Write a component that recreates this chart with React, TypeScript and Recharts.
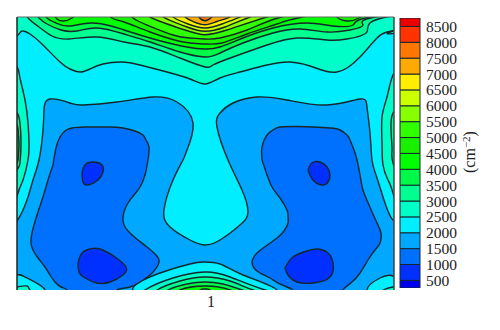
import { Area, Bar, ComposedChart, Label, ReferenceLine, XAxis, YAxis } from 'recharts';

type Pt = [number, number];

// contour outlines on a grid of x 17-394, y 17-290 (y grows downward)
// points outside the grid close a region behind the plot edge
const plate: Pt[] = [[5, 5], [405, 5], [405, 300], [5, 300], [5, 5]];

const top2500: Pt[] = [[8, 42], [18, 35], [22, 31], [30, 34], [43, 45], [60, 62], [70, 69], [80, 72], [90, 69], [103, 64], [122, 62], [140, 65], [167, 72], [190, 79], [205, 84], [220, 78], [240, 72], [267, 65], [290, 62], [310, 66], [325, 71], [337, 72], [347, 68], [360, 57], [377, 38], [387, 32], [393, 31], [402, 32], [404, 8], [8, 8], [8, 42]];
const top3000: Pt[] = [[21, 8], [29, 19], [39, 27], [52, 36], [69, 39], [97, 37], [124, 42], [150, 47], [180, 58], [205, 67], [213, 65], [233, 57], [267, 45], [297, 38], [327, 40], [347, 39], [367, 32], [382, 18], [389, 8], [21, 8]];
const top3500: Pt[] = [[31, 8], [39, 18], [47, 24], [61, 30], [77, 31], [97, 28], [124, 34], [150, 42], [180, 52], [205, 57], [220, 53], [243, 43], [273, 33], [300, 29], [327, 32], [350, 30], [363, 25], [375, 17], [382, 8], [31, 8]];
const top4000: Pt[] = [[40, 8], [47, 18], [56, 23], [69, 26], [91, 23], [111, 26], [124, 30], [157, 40], [187, 47], [205, 49], [220, 47], [243, 38], [273, 28], [307, 23], [333, 26], [353, 25], [370, 17], [377, 8], [40, 8]];
const top4500: Pt[] = [[104, 8], [112, 18], [124, 22], [150, 32], [183, 42], [205, 44], [222, 43], [247, 34], [277, 24], [298, 18], [307, 8], [104, 8]];
const top5000: Pt[] = [[124, 8], [133, 18], [147, 25], [173, 35], [190, 38], [205, 39], [220, 38], [247, 30], [278, 18], [287, 8], [124, 8]];
const top5500: Pt[] = [[142, 8], [150, 17], [185, 30], [205, 34.7], [227, 30], [267, 17], [276, 8], [142, 8]];
const top6000: Pt[] = [[156, 8], [163, 17], [187, 27], [205, 31.3], [225, 27], [250, 17], [258, 8], [156, 8]];
const top6500: Pt[] = [[167, 8], [173, 17], [188, 24], [205, 28], [222, 24], [240, 17], [247, 8], [167, 8]];
const top7000: Pt[] = [[178, 8], [185, 17], [193, 21.5], [205, 24.7], [217, 21.5], [230, 17], [236, 8], [178, 8]];
const top7500: Pt[] = [[195, 8], [199, 17], [205, 20.7], [212, 17], [217, 8], [195, 8]];
const lobeLeft: Pt[] = [[52, 10], [57, 19], [64, 21], [72, 18], [77, 10], [52, 10]];
const lobeRight: Pt[] = [[333, 10], [338, 18], [348, 21], [359, 18], [364, 10], [333, 10]];

const left2500: Pt[] = [[8, 62], [17, 67], [20, 78], [25, 100], [28, 123], [29, 143], [28, 160], [23, 180], [18, 193], [8, 200], [8, 62]];
const left3000: Pt[] = [[8, 108], [17, 113], [20, 123], [21, 143], [20, 163], [17, 170], [8, 175], [8, 108]];
const left3500: Pt[] = [[10, 120], [17, 125], [18.5, 135], [19, 145], [18.5, 155], [17, 163], [10, 168], [10, 120]];
const right2500: Pt[] = [[402, 68], [393, 75], [387, 97], [382, 117], [382, 143], [383, 165], [388, 180], [393, 193], [402, 200], [402, 68]];
const right3000: Pt[] = [[402, 108], [393, 113], [391, 130], [392, 150], [393, 163], [402, 175], [402, 108]];

const basin2000: Pt[] = [[8, 228], [17, 221], [27, 200], [33, 180], [39, 160], [43, 130], [44, 110], [50, 99], [70, 103], [83, 105], [117, 102], [153, 97], [177, 102], [193, 123], [187, 150], [183, 160], [173, 180], [164, 210], [170, 227], [190, 240], [205, 245], [220, 240], [240, 225], [248, 212], [242, 190], [228, 160], [217, 127], [220, 113], [233, 103], [257, 97], [287, 100], [327, 105], [360, 99], [367, 107], [370, 133], [372, 160], [376, 175], [383, 197], [393, 220], [402, 228], [402, 272], [393, 276], [380, 278], [367, 290], [358, 298], [285, 298], [277, 290], [243, 275], [220, 264], [203, 262], [190, 264], [160, 273], [133, 288], [125, 298], [55, 298], [45, 290], [27, 278], [17, 275], [8, 272], [8, 228]];

const blobLeft1500: Pt[] = [[53, 165], [56, 148], [60, 137], [65, 131], [72, 128], [85, 127], [97, 127], [110, 127], [123, 128], [135, 131], [143, 135], [146, 140], [149, 147], [148, 160], [145, 175], [140, 187], [134, 195], [128, 203], [124, 212], [123, 220], [125, 227], [130, 233], [138, 240], [147, 247], [155, 254], [159, 260], [157, 267], [150, 275], [140, 282], [130, 287], [117, 290], [108, 296], [75, 296], [67, 290], [61, 287], [55, 282], [50, 275], [45, 267], [38, 258], [33, 250], [31, 243], [32, 233], [37, 215], [43, 197], [48, 180], [53, 165]];
const blobRight1500: Pt[] = [[262, 160], [262, 147], [267, 135], [273, 130], [280, 127], [297, 126.5], [313, 127], [330, 128], [340, 130], [347, 135], [350, 140], [354, 150], [357, 160], [360, 175], [363, 190], [369, 205], [377, 223], [381, 233], [380, 243], [375, 250], [368, 260], [360, 273], [352, 282], [343, 290], [335, 296], [303, 296], [293, 290], [280, 284], [270, 278], [260, 273], [254, 268], [252, 262], [254, 257], [257, 253], [266, 246], [277, 238], [284, 231], [288, 223], [288, 216], [287, 210], [280, 198], [272, 187], [266, 172], [262, 160]];

const dotUpperLeft: Pt[] = [[82, 173], [85, 165], [93, 162], [102, 165], [103, 172], [98, 180], [88, 185], [83, 182], [82, 173]];
const dotLowerLeft: Pt[] = [[78, 263], [82, 253], [90, 249], [100, 249], [115, 257], [126, 267], [123, 275], [110, 282], [97, 283], [85, 278], [79, 272], [78, 263]];
const dotUpperRight: Pt[] = [[308, 170], [312, 163], [320, 162], [327, 167], [330, 175], [328, 182], [322, 185], [313, 180], [308, 170]];
const dotLowerRight: Pt[] = [[285, 268], [293, 257], [307, 251], [318, 249], [328, 253], [333, 263], [330, 277], [313, 283], [297, 282], [288, 275], [285, 268]];

const bottom2500: Pt[] = [[140, 298], [145, 290], [173, 278], [205, 272], [230, 277], [265, 290], [272, 298], [140, 298]];
const bottom3000: Pt[] = [[152, 298], [157, 290], [180, 281], [205, 277], [230, 281], [253, 290], [258, 298], [152, 298]];
const bottom3500: Pt[] = [[163, 298], [168, 290], [187, 284], [205, 282], [223, 284], [242, 290], [247, 298], [163, 298]];
const bottom4000: Pt[] = [[175, 298], [180, 290], [205, 286], [230, 290], [235, 298], [175, 298]];
const bottom4500: Pt[] = [[197, 296], [200, 290], [205, 289], [210, 290], [213, 296], [197, 296]];
const cornerLeft: Pt[] = [[8, 289], [17, 287], [27, 286], [30, 290], [33, 298], [8, 298], [8, 289]];
const cornerRight: Pt[] = [[402, 286], [393, 287], [383, 290], [378, 298], [402, 298], [402, 286]];

// colour scale: lowest band first
const scaleLevels = [500, 1000, 1500, 2000, 2500, 3000, 3500, 4000, 4500, 5000, 5500, 6000, 6500, 7000, 7500, 8000, 8500];
const scaleColors = ['#0000ee', '#0030ff', '#0070ff', '#00a8ff', '#00eeff', '#00ffc8', '#00ff90', '#00f848', '#00ff00', '#18f000', '#30ff00', '#88ff00', '#ccff00', '#ffee00', '#ffaa00', '#ff7700', '#ff3300', '#ee0000'];
const scaleBands = [500, 500, 500, 500, 500, 500, 500, 500, 500, 500, 500, 500, 500, 500, 500, 500, 500, 500];

// painted in order, each region over the one it sits in
const regions: Array<{ pts: Pt[]; band: number }> = [
  { pts: plate, band: 4 },
  { pts: top2500, band: 5 },
  { pts: top3000, band: 6 },
  { pts: top3500, band: 7 },
  { pts: top4000, band: 8 },
  { pts: lobeLeft, band: 9 },
  { pts: lobeRight, band: 9 },
  { pts: top4500, band: 9 },
  { pts: top5000, band: 10 },
  { pts: top5500, band: 11 },
  { pts: top6000, band: 12 },
  { pts: top6500, band: 13 },
  { pts: top7000, band: 14 },
  { pts: top7500, band: 15 },
  { pts: left2500, band: 5 },
  { pts: left3000, band: 6 },
  { pts: left3500, band: 7 },
  { pts: right2500, band: 5 },
  { pts: right3000, band: 6 },
  { pts: basin2000, band: 3 },
  { pts: blobLeft1500, band: 2 },
  { pts: blobRight1500, band: 2 },
  { pts: dotUpperLeft, band: 1 },
  { pts: dotLowerLeft, band: 1 },
  { pts: dotUpperRight, band: 1 },
  { pts: dotLowerRight, band: 1 },
  { pts: bottom2500, band: 5 },
  { pts: bottom3000, band: 6 },
  { pts: bottom3500, band: 7 },
  { pts: bottom4000, band: 8 },
  { pts: bottom4500, band: 9 },
  { pts: cornerLeft, band: 5 },
  { pts: cornerRight, band: 5 },
];

const scaleRow = [Object.fromEntries([['name', 'scale'], ...scaleBands.map((v, i) => [`b${i}`, v])])];

const serif = '"Liberation Serif", serif';
const lineColor = '#14282c';

function UnitLabel({ viewBox }: any) {
  const x = viewBox.x + 55;
  const y = 152;
  return (
    <text x={x} y={y} transform={`rotate(-90 ${x} ${y})`} textAnchor="middle" fontFamily={serif} fontSize={16} fill="#222">
      (cm<tspan dy={-5} fontSize={11}>−2</tspan><tspan dy={5}>)</tspan>
    </text>
  );
}

export default function App() {
  return (
    <div style={{ position: 'absolute', left: 0, top: 0, width: 500, height: 330, background: '#fff' }}>
      <div style={{ position: 'absolute', left: 0, top: 0 }}>
        <ComposedChart width={500} height={330} margin={{ top: 17, right: 106, bottom: 10, left: 17 }}>
          <XAxis
            dataKey="x"
            type="number"
            domain={[17, 394]}
            allowDataOverflow
            ticks={[211]}
            tickFormatter={() => '1'}
            tickLine={false}
            axisLine={false}
            height={30}
            tickMargin={0}
            tick={{ fontFamily: serif, fontSize: 16, fill: '#222' }}
          />
          <YAxis type="number" domain={[17, 290]} reversed allowDataOverflow hide />
          {regions.map((r, i) => (
            <Area
              key={i}
              data={r.pts.map(([x, y]) => ({ x, y }))}
              dataKey="y"
              type="natural"
              baseValue={r.pts[0][1]}
              fill={scaleColors[r.band]}
              fillOpacity={1}
              stroke={lineColor}
              strokeWidth={1.4}
              dot={false}
              activeDot={false}
              legendType="none"
              isAnimationActive={false}
            />
          ))}
          <ReferenceLine x={17} stroke="#222" strokeWidth={1.5} />
          <ReferenceLine x={394} stroke="#444" strokeWidth={1.5} />
          <ReferenceLine y={17} stroke="#666" strokeWidth={1} />
        </ComposedChart>
      </div>
      <div style={{ position: 'absolute', left: 0, top: 0 }}>
        <ComposedChart width={500} height={330} data={scaleRow} barCategoryGap={0} margin={{ top: 18, right: 20, bottom: 42, left: 400 }}>
          <XAxis dataKey="name" type="category" hide />
          <YAxis
            orientation="right"
            type="number"
            domain={[260, 8765]}
            allowDataOverflow
            ticks={scaleLevels}
            interval={0}
            width={60}
            tickLine={false}
            axisLine={false}
            tickMargin={0}
            tick={{ fontFamily: serif, fontSize: 15.5, fill: '#222' }}
          >
            <Label content={<UnitLabel />} />
          </YAxis>
          {scaleBands.map((_, i) => (
            <Bar key={i} dataKey={`b${i}`} stackId="scale" fill={scaleColors[i]} stroke={lineColor} strokeWidth={1} isAnimationActive={false} />
          ))}
        </ComposedChart>
      </div>
    </div>
  );
}
